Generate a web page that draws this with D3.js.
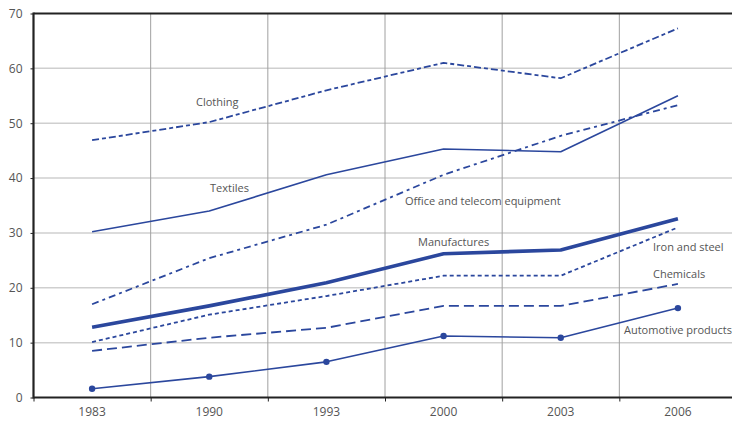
<!DOCTYPE html>
<html>
<head>
<meta charset="utf-8">
<script src="https://cdn.jsdelivr.net/npm/d3@7"></script>
<style>
  body { margin: 0; background: #fff; }
  text { font-family: "Open Sans", "Noto Sans", sans-serif; }
</style>
</head>
<body>
<script>
// chart data
const years = ["1983", "1990", "1993", "2000", "2003", "2006"];
const yTicks = [0, 10, 20, 30, 40, 50, 60, 70];

const clothing = [46.9, 50.2, 56.0, 61.0, 58.2, 67.3];
const textiles = [30.2, 34.0, 40.6, 45.3, 44.8, 55.0];
const office = [17.0, 25.4, 31.5, 40.6, 47.7, 53.3];
const manufactures = [12.8, 16.7, 20.9, 26.2, 26.9, 32.6];
const ironSteel = [10.1, 15.1, 18.5, 22.2, 22.2, 31.0];
const chemicals = [8.5, 10.9, 12.7, 16.7, 16.7, 20.7];
const automotive = [1.6, 3.8, 6.5, 11.2, 10.9, 16.3];

const blue = "#2b479d";
const textGrey = "#555";

const series = [
  { name: "Clothing", values: clothing, dash: "7,3,4,3", width: 1.8, label: [196, 106] },
  { name: "Textiles", values: textiles, dash: null, width: 1.6, label: [210, 192] },
  { name: "Office and telecom equipment", values: office, dash: "7,4,3,4", width: 1.8, label: [405, 205] },
  { name: "Manufactures", values: manufactures, dash: null, width: 3.6, label: [418, 246] },
  { name: "Iron and steel", values: ironSteel, dash: "4,3", width: 1.8, label: [653, 251] },
  { name: "Chemicals", values: chemicals, dash: "10,5", width: 1.8, label: [653, 278] },
  { name: "Automotive products", values: automotive, dash: null, width: 1.6, label: [624, 334], dots: true }
];

const svg = d3.select("body")
  .append("svg")
  .attr("width", 732)
  .attr("height", 421);

const plotLeft = 33.5, plotRight = 736.5, plotTop = 13.5, plotBottom = 397.5;

const x = d3.scaleBand()
  .domain(years)
  .range([plotLeft, plotRight]);

const y = d3.scaleLinear()
  .domain([0, 70])
  .range([plotBottom, plotTop]);

const cx = (d) => x(d) + x.bandwidth() / 2;

// horizontal gridlines
svg.append("g")
  .selectAll("line")
  .data(yTicks.slice(1, -1))
  .enter()
  .append("line")
  .attr("x1", plotLeft)
  .attr("x2", 732)
  .attr("y1", (d) => y(d))
  .attr("y2", (d) => y(d))
  .attr("stroke", "#cfcfcf")
  .attr("stroke-width", 1.5);

// vertical gridlines at band edges
svg.append("g")
  .selectAll("line")
  .data(years.slice(1))
  .enter()
  .append("line")
  .attr("x1", (d) => x(d))
  .attr("x2", (d) => x(d))
  .attr("y1", plotTop)
  .attr("y2", plotBottom)
  .attr("stroke", "#a0a0a0")
  .attr("stroke-width", 1);

// y axis
let yAxis = d3.axisLeft(y).tickValues(yTicks).tickSize(3).tickPadding(8);
let gy = svg.append("g")
  .attr("transform", "translate(" + plotLeft + ",0)")
  .call(yAxis);
gy.select(".domain").remove();
gy.selectAll("line").attr("stroke", "#222");
gy.selectAll("text")
  .attr("fill", textGrey)
  .style("font-size", "12px");

// x axis ticks at band edges
let xEdge = d3.scaleLinear().domain([0, years.length]).range([plotLeft, plotRight]);
let xAxis = d3.axisBottom(xEdge).tickValues(d3.range(0, years.length)).tickSize(4).tickFormat("");
let gx = svg.append("g")
  .attr("transform", "translate(0," + plotBottom + ")")
  .call(xAxis);
gx.select(".domain").remove();
gx.selectAll("line").attr("stroke", "#222");

svg.append("g")
  .selectAll("text")
  .data(years)
  .enter()
  .append("text")
  .attr("x", cx)
  .attr("y", plotBottom + 18)
  .attr("text-anchor", "middle")
  .attr("fill", textGrey)
  .style("font-size", "12px")
  .text((d) => d);

// frame lines
svg.append("line")
  .attr("x1", plotLeft).attr("x2", 732)
  .attr("y1", plotTop).attr("y2", plotTop)
  .attr("stroke", "#222").attr("stroke-width", 2);
svg.append("line")
  .attr("x1", plotLeft).attr("x2", 732)
  .attr("y1", plotBottom).attr("y2", plotBottom)
  .attr("stroke", "#222").attr("stroke-width", 2.2);
svg.append("line")
  .attr("x1", plotLeft).attr("x2", plotLeft)
  .attr("y1", plotTop - 1).attr("y2", plotBottom + 1)
  .attr("stroke", "#222").attr("stroke-width", 2.2);

// series lines
let line = d3.line()
  .x((d, i) => cx(years[i]))
  .y((d) => y(d));

series.forEach((s) => {
  svg.append("path")
    .datum(s.values)
    .attr("d", line)
    .attr("fill", "none")
    .attr("stroke", blue)
    .attr("stroke-width", s.width)
    .attr("stroke-dasharray", s.dash)
    .attr("stroke-linejoin", "round");

  if (s.dots) {
    svg.append("g")
      .selectAll("circle")
      .data(s.values)
      .enter()
      .append("circle")
      .attr("cx", (d, i) => cx(years[i]))
      .attr("cy", (d) => y(d))
      .attr("r", 3.2)
      .attr("fill", blue);
  }

  svg.append("text")
    .attr("x", s.label[0])
    .attr("y", s.label[1])
    .attr("fill", textGrey)
    .style("font-size", "11px")
    .text(s.name);
});
</script>
</body>
</html>
